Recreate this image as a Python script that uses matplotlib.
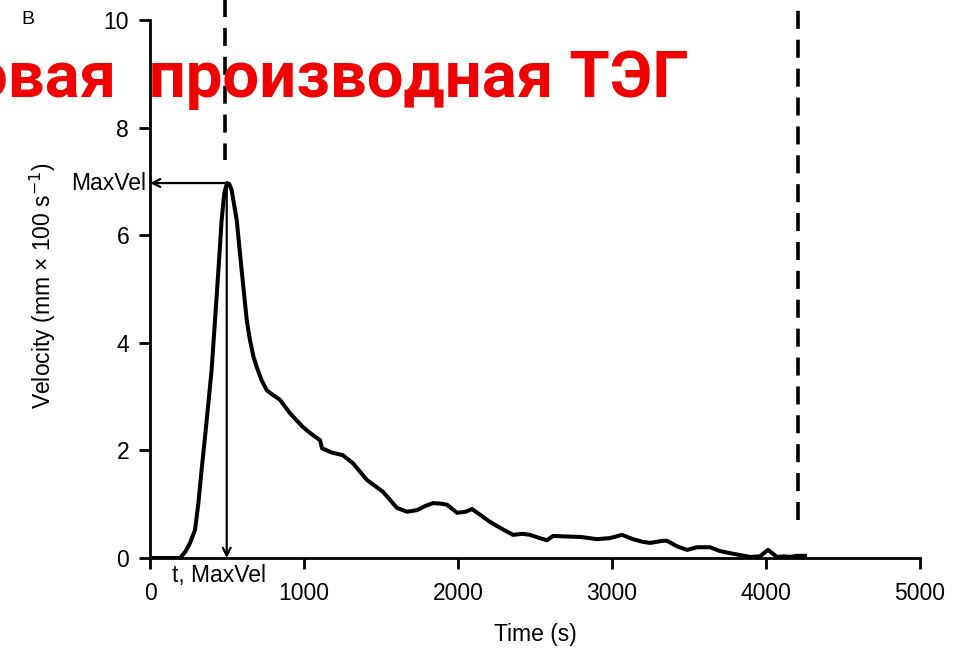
import matplotlib.pyplot as plt

# данные кривой (время, с / скорость)
time_s = [0, 100, 195, 230, 260, 292, 314, 335, 357, 379, 400, 422, 444, 465,
          482, 500, 515, 530, 563, 595, 628, 649, 671, 693, 725, 758, 779, 844,
          909, 994, 1050, 1104, 1117, 1180, 1253, 1318, 1409, 1513, 1604, 1669,
          1734, 1790, 1838, 1890, 1929, 1994, 2050, 2091, 2150, 2208, 2280, 2357,
          2420, 2468, 2530, 2578, 2617, 2700, 2800, 2903, 2987, 3065, 3136, 3200,
          3247, 3331, 3357, 3420, 3487, 3552, 3636, 3700, 3766, 3840, 3896, 3960,
          4013, 4045, 4071, 4120, 4156, 4200, 4253]
velocity = [0, 0, 0, 0.12, 0.28, 0.52, 1.02, 1.64, 2.25, 2.88, 3.5, 4.42, 5.35,
            6.28, 6.78, 6.97, 6.95, 6.84, 6.28, 5.35, 4.42, 4.05, 3.75, 3.55, 3.3,
            3.12, 3.07, 2.94, 2.69, 2.43, 2.3, 2.19, 2.04, 1.96, 1.91, 1.76, 1.45,
            1.23, 0.93, 0.86, 0.89, 0.97, 1.02, 1.01, 0.99, 0.84, 0.86, 0.91, 0.79,
            0.67, 0.55, 0.43, 0.45, 0.43, 0.37, 0.33, 0.41, 0.40, 0.39, 0.35, 0.37,
            0.43, 0.35, 0.30, 0.28, 0.32, 0.32, 0.22, 0.15, 0.2, 0.2, 0.13, 0.09,
            0.05, 0.02, 0.03, 0.15, 0.08, 0.02, 0.03, 0.02, 0.04, 0.04]

max_vel = 6.97
t_max_vel = 498
# пунктир: (x, откуда, докуда)
dashed_lines = [(487, 10.4, 7.4), (4208, 0.7, 10.4)]

x_ticks = [0, 1000, 2000, 3000, 4000, 5000]
y_ticks = [0, 2, 4, 6, 8, 10]

plt.rcParams['font.family'] = ['Liberation Sans', 'DejaVu Sans']
FS = 16.5

fig = plt.figure(figsize=(9.63, 6.48), dpi=100)
ax = fig.add_axes([0.1558, 0.1389, 0.7995, 0.8302])

ax.plot(time_s, velocity, color="black", lw=2.9, solid_joinstyle="round")

# вертикальные пунктирные линии (выходят за верх осей)
for xv, y0, y1 in dashed_lines:
    ax.plot([xv, xv], [y0, y1], color="black", lw=2.6, dashes=(5, 3),
            clip_on=False)

# стрелки MaxVel
arrow_style = dict(arrowstyle="->", color="black", lw=1.6,
                   mutation_scale=14, shrinkA=0, shrinkB=0)
ax.annotate("", xy=(0, max_vel), xytext=(t_max_vel, max_vel),
            arrowprops=arrow_style, annotation_clip=False)
ax.annotate("", xy=(t_max_vel, 0), xytext=(t_max_vel, max_vel),
            arrowprops=arrow_style, annotation_clip=False)
ax.text(-25, max_vel, "MaxVel", ha="right", va="center", fontsize=FS)
ax.text(445, -0.33, "t, MaxVel", ha="center", va="center", fontsize=FS)

ax.set_xlim(0, 5000)
ax.set_ylim(0, 10)
ax.set_xticks(x_ticks)
ax.set_yticks(y_ticks)
ax.tick_params(labelsize=FS, width=2.0, length=8, direction="out")
ax.tick_params(axis="x", pad=9)
ax.tick_params(axis="y", pad=7)
for s in ["top", "right"]:
    ax.spines[s].set_visible(False)
for s in ["left", "bottom"]:
    ax.spines[s].set_linewidth(2.0)

ax.set_xlabel("Time (s)", fontsize=FS, labelpad=13)
ax.set_ylabel("Velocity (mm × 100 s$^{-1}$)", fontsize=FS)
ax.yaxis.set_label_coords(-0.12, 0.507)

fig.text(28 / 963, 1 - 20 / 648, "B", fontsize=14, ha="center", va="center")
fig.text(689 / 963, 1 - 97 / 648, "овая  производная ТЭГ", color="#f00000",
         fontsize=47, fontweight="bold", ha="right", va="baseline",
         family=["Roboto", "DejaVu Sans"])

fig.savefig("out.png", dpi=100)
plt.close(fig)
